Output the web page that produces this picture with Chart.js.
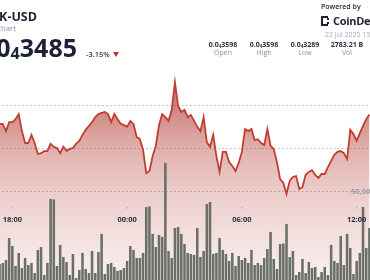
<!DOCTYPE html>
<html>
<head>
<meta charset="utf-8">
<script src="https://cdn.jsdelivr.net/npm/chart.js@4.4.1/dist/chart.umd.min.js"></script>
<style>
  html, body { margin: 0; padding: 0; background: #fff; }
  body { width: 370px; height: 280px; overflow: hidden; position: relative; font-family: "Open Sans", "Noto Sans", sans-serif; color: #1b2233; }
  #wrap { position: absolute; left: -2px; top: 0; width: 373px; height: 280px; }
  .abs { position: absolute; white-space: nowrap; line-height: 1; }
  .stat { position: absolute; width: 50px; text-align: center; line-height: 1; white-space: nowrap; }
  .val { font-size: 7px; font-weight: 700; color: #2b3140; top: 41px; }
  .lbl { font-size: 7px; color: #8a8f99; top: 49px; }
  sub { font-size: 65%; vertical-align: -0.15em; line-height: 0; }
</style>
</head>
<body>
<div id="wrap"><canvas id="priceChart" width="373" height="280"></canvas></div>

<div class="abs" style="right:333px; top:11px; font-size:12.5px; font-weight:700;">BONK-USD</div>
<div class="abs" style="right:354px; top:24.7px; font-size:7.7px; color:#8a8f99;">Chart</div>
<div class="abs" style="right:293px; top:35px; font-size:25px; font-weight:700;">0.0<sub>4</sub>3485</div>
<div class="abs" style="left:86px; top:50.6px; font-size:7.5px; font-weight:600; color:#333a47;">-3.15%</div>
<div class="abs" style="left:113px; top:52px; width:0; height:0; border-left:3px solid transparent; border-right:3px solid transparent; border-top:5px solid #c62f2f;"></div>

<div class="abs" style="left:321px; top:3.3px; font-size:7px; font-weight:600;">Powered by</div>
<div class="abs" style="left:321px; top:16px; width:5px; height:6px; border-left:2px solid #1b2233; border-top:2px solid #1b2233; border-bottom:2px solid #1b2233;"></div>
<div class="abs" style="left:327px; top:18px; width:2px; height:2px; background:#1b2233;"></div>
<div class="abs" style="left:327px; top:22px; width:2px; height:2px; background:#1b2233;"></div>
<div class="abs" style="left:333px; top:15.2px; font-size:11px; font-weight:700; letter-spacing:-0.3px;">CoinDesk</div>
<div class="abs" style="left:325px; top:30.8px; font-size:7px; color:#a8adb5;">22 Jul 2025 15:00</div>

<div class="stat val" style="left:198px;">0.0<sub>4</sub>3598</div>
<div class="stat val" style="left:239px;">0.0<sub>4</sub>3598</div>
<div class="stat val" style="left:280px;">0.0<sub>4</sub>3289</div>
<div class="stat val" style="left:322px;">2783.21 B</div>
<div class="stat lbl" style="left:198px;">Open</div>
<div class="stat lbl" style="left:239px;">High</div>
<div class="stat lbl" style="left:280px;">Low</div>
<div class="stat lbl" style="left:322px;">Vol</div>

<script>
// price in units of 0.0₄ (x1e-8), one point every 10 minutes from 17:20
const prices = [
  3458, 3458, 3441, 3462, 3462, 3469, 3481, 3441, 3413, 3413,
  3432, 3413, 3387, 3389, 3394, 3394, 3411, 3404, 3401, 3389,
  3404, 3394, 3399, 3401, 3411, 3418, 3432, 3444, 3453, 3462,
  3474, 3481, 3484, 3486, 3481, 3462, 3481, 3469, 3458, 3455,
  3451, 3465, 3458, 3427, 3422, 3397, 3342, 3347, 3382, 3406,
  3455, 3481, 3474, 3465, 3491, 3556, 3500, 3486, 3491, 3474,
  3479, 3465, 3451, 3441, 3474, 3415, 3404, 3432, 3382, 3345,
  3392, 3392, 3368, 3359, 3347, 3366, 3392, 3446, 3441, 3446,
  3420, 3422, 3413, 3408, 3446, 3406, 3399, 3368, 3328, 3319,
  3293, 3324, 3333, 3335, 3305, 3309, 3338, 3345, 3349, 3338,
  3331, 3340, 3340, 3356, 3371, 3385, 3392, 3394, 3389, 3375,
  3444, 3434, 3418, 3436, 3453, 3469, 3480
];

const volumes = [
  9000, 9550, 11200, 23600, 19100, 7900, 15200, 6700, 12400, 8400,
  9600, 3900, 16900, 18500, 2800, 9600, 45500, 45300, 7900, 19700,
  12900, 10100, 2800, 14600, 1100, 5600, 15200, 6200, 3900, 16300,
  3900, 15700, 25900, 3400, 9000, 9600, 7300, 5100, 5600,
  6700, 10700, 19100, 16900, 12400, 12400, 15200, 41000, 41300, 25900,
  18500, 25300, 24200, 65800, 16300, 12400, 29200, 29800, 25900, 20200,
  15200, 14600, 14100, 29200, 12900, 16300, 42700, 43800, 14600, 15200,
  23600, 16900, 14600, 10700, 15200, 7900, 13500, 11200, 12400, 9600,
  16900, 8400, 9600, 8400, 12400, 17400, 27000, 11800, 6200, 20200,
  20500, 31500, 12900, 16300, 2800, 4500, 11800, 3900, 10100, 6700,
  7300, 1700, 4500, 7300, 2800, 19700, 10700, 9600, 24700, 8400,
  25900, 18000, 3400, 10700, 15200, 41000, 18000, 29200
];

const tickLabels = ['18:00', '00:00', '06:00', '12:00'];
const gridPrices = [3300, 3400, 3500];
const volumeMark = 50000;

let times = [];
for (let i = 0; i < prices.length; i++) {
    let m = (17 * 60 + 20 + i * 10) % 1440;
    times.push(String(Math.floor(m / 60)).padStart(2, '0') + ':' + String(m % 60).padStart(2, '0'));
}

function areaGradient(context) {
    const area = context.chart.chartArea;
    if (!area) return 'rgba(172,42,32,0.3)';
    let g = context.chart.ctx.createLinearGradient(0, area.top, 0, area.bottom);
    g.addColorStop(0, 'rgba(172,42,32,0.80)');
    g.addColorStop(0.286, 'rgba(172,42,32,0.68)');
    g.addColorStop(0.393, 'rgba(172,42,32,0.56)');
    g.addColorStop(0.536, 'rgba(172,42,32,0.36)');
    g.addColorStop(0.679, 'rgba(172,42,32,0.24)');
    g.addColorStop(0.821, 'rgba(172,42,32,0.155)');
    g.addColorStop(1, 'rgba(172,42,32,0.07)');
    return g;
}

// time labels and the volume mark sit inside the plot, so draw them by hand
const insideLabels = {
    id: 'insideLabels',
    afterDraw(chart) {
        const ctx = chart.ctx;
        const x = chart.scales.x;
        const v = chart.scales.v;
        ctx.save();
        ctx.font = '700 7.5px "Open Sans"';
        ctx.textAlign = 'center';
        ctx.textBaseline = 'middle';
        tickLabels.forEach(t => {
            let px = x.getPixelForValue(times.indexOf(t));
            ctx.fillStyle = '#9aa0a8';
            ctx.fillRect(Math.round(px) - 0.5, 207, 1, 1.5);
            ctx.fillStyle = '#2b3140';
            ctx.fillText(t, px, 219.5);
        });
        ctx.fillStyle = '#9a9ea6';
        ctx.textAlign = 'left';
        ctx.fillText('50,000', chart.chartArea.right - 20, v.getPixelForValue(volumeMark) + 1);
        ctx.restore();
    }
};

new Chart(document.getElementById('priceChart'), {
    type: 'bar',
    data: {
        labels: times,
        datasets: [
            {
                type: 'line',
                data: prices,
                yAxisID: 'y',
                borderColor: '#c23d31',
                borderWidth: 1.8,
                pointRadius: 0,
                tension: 0,
                fill: false,
                order: 1
            },
            {
                type: 'bar',
                data: volumes,
                yAxisID: 'v',
                backgroundColor: '#6a6f67',
                barPercentage: 0.8,
                categoryPercentage: 1,
                order: 2
            },
            {
                type: 'line',
                data: prices,
                yAxisID: 'y',
                borderWidth: 0,
                pointRadius: 0,
                tension: 0,
                fill: 'start',
                backgroundColor: areaGradient,
                order: 3
            }
        ]
    },
    options: {
        responsive: false,
        animation: false,
        devicePixelRatio: 1,
        layout: { padding: 0 },
        plugins: { legend: { display: false }, tooltip: { enabled: false } },
        scales: {
            x: { type: 'category', offset: true, display: false },
            y: {
                min: 3090.6,
                max: 3749.4,
                afterBuildTicks: axis => { axis.ticks = gridPrices.map(p => ({ value: p })); },
                ticks: { display: false },
                grid: { drawTicks: false, color: '#b4b4b4', lineWidth: 1 },
                border: { display: false, dash: [1.5, 2.5] }
            },
            v: { min: 0, max: 157300, display: false }
        }
    },
    plugins: [insideLabels]
});
</script>
</body>
</html>
